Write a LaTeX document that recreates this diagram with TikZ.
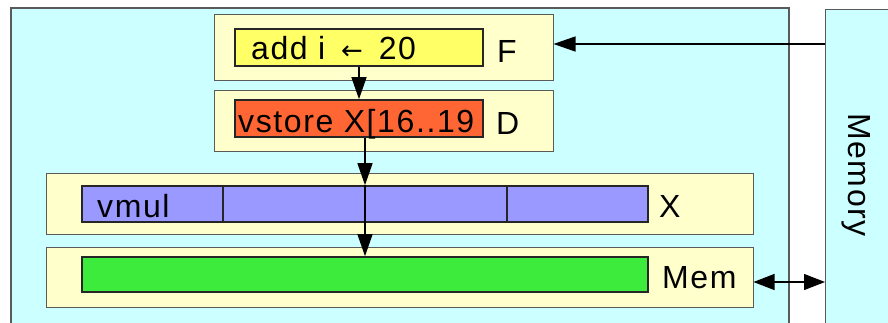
\documentclass[tikz,border=0pt]{standalone}
\usepackage{fontspec}
\setmainfont{Liberation Sans}[LetterSpace=5]
\newfontfamily\arrowfont{DejaVu Sans}
\usetikzlibrary{arrows.meta,calc}
\definecolor{cpucyan}{HTML}{CCFFFF}
\definecolor{stagefill}{HTML}{FFFFCC}
\definecolor{edgegray}{HTML}{5A5A5A}
\definecolor{fetchyellow}{HTML}{FFFF66}
\definecolor{decodeorange}{HTML}{FF6633}
\definecolor{execpurple}{HTML}{9999FF}
\definecolor{memgreen}{HTML}{3DEB3D}
\tikzset{
  unit/.style={draw=edgegray, line width=1.2pt, fill=cpucyan, inner sep=0pt},
  stagebox/.style={draw=edgegray, line width=1pt, fill=stagefill, inner sep=0pt},
  slot/.style={draw=black!85, line width=1.6pt, inner sep=0pt},
  lbl/.style={inner sep=0pt, anchor=base west, font=\fontsize{32}{38}\selectfont},
  arr/.style={draw=black, line width=1.3pt, -{Triangle[length=22pt,width=15pt]}},
  darr/.style={draw=black, line width=1.3pt, {Triangle[length=21pt,width=16pt]}-{Triangle[length=21pt,width=16pt]}},
}
\begin{document}
\begin{tikzpicture}[x=1pt,y=-1pt]
  \useasboundingbox (0,0) rectangle (888,322);
  \clip (0,0) rectangle (888,322);
  \fill[white] (0,0) rectangle (888,322);

  % processor and memory units (extending below the frame)
  \node[unit, minimum width=778pt, minimum height=340pt] (cpu) at (400,178) {};
  \node[unit, minimum width=80pt, minimum height=340pt, anchor=north west] (memory) at (825,9) {};
  \node[lbl, rotate=-90] (memlabel) at (848,113) {Memory};

  % pipeline stages
  \node[stagebox, minimum width=339pt, minimum height=66pt] (fstage) at (383.5,47) {};
  \node[stagebox, minimum width=339pt, minimum height=61pt] (dstage) at (383.5,120.5) {};
  \node[stagebox, minimum width=707pt, minimum height=61pt] (xstage) at (399.5,203.5) {};
  \node[stagebox, minimum width=707pt, minimum height=60pt] (mstage) at (399.5,277) {};

  % instruction slots
  \node[slot, fill=fetchyellow, minimum width=248pt, minimum height=37pt] (fslot) at (359,47.5) {};
  \node[slot, fill=decodeorange, minimum width=248pt, minimum height=37pt] (dslot) at (359,118.5) {};
  \node[slot, fill=execpurple, minimum width=566pt, minimum height=36pt] (xslot) at (365,204) {};
  \node[slot, fill=memgreen, minimum width=566pt, minimum height=35pt] (mslot) at (365,274.5) {};

  % lanes of the vector unit
  \draw[line width=1.6pt, black!85] ($(xslot.north west)!0.25!(xslot.north east)$) -- ($(xslot.south west)!0.25!(xslot.south east)$);
  \draw[line width=1.6pt, black!85] ($(xslot.north west)!0.75!(xslot.north east)$) -- ($(xslot.south west)!0.75!(xslot.south east)$);
  \draw[line width=1.3pt, black] (xslot.north) -- (xslot.south);

  % texts
  \node[lbl] (ftext) at (251,59) {add i \,{\arrowfont\fontsize{26}{30}\selectfont ←}\, 20};
  \node[lbl] (dtext) at (238,132) {vstore X[16..19};
  \node[lbl] (xtext) at (97,217) {vmul};
  \node[lbl] (fname) at (497,62) {F};
  \node[lbl] (dname) at (496,134) {D};
  \node[lbl] (xname) at (659,217) {X};
  \node[lbl] (mname) at (662,288) {Mem};

  % flow between stages
  \draw[arr] (fslot.south) -- (dslot.north);
  \draw[arr] (xslot.north |- dslot.south) -- (xslot.north);
  \draw[arr] (xslot.south) -- (mslot.north);

  % memory connections
  \draw[arr] ($(memory.west |- fstage.east)+(0,-3)$) -- ($(fstage.east)+(0,-3)$);
  \draw[darr] ($(mstage.east)+(0,5)$) -- ($(memory.west |- mstage.east)+(0,5)$);
\end{tikzpicture}
\end{document}
